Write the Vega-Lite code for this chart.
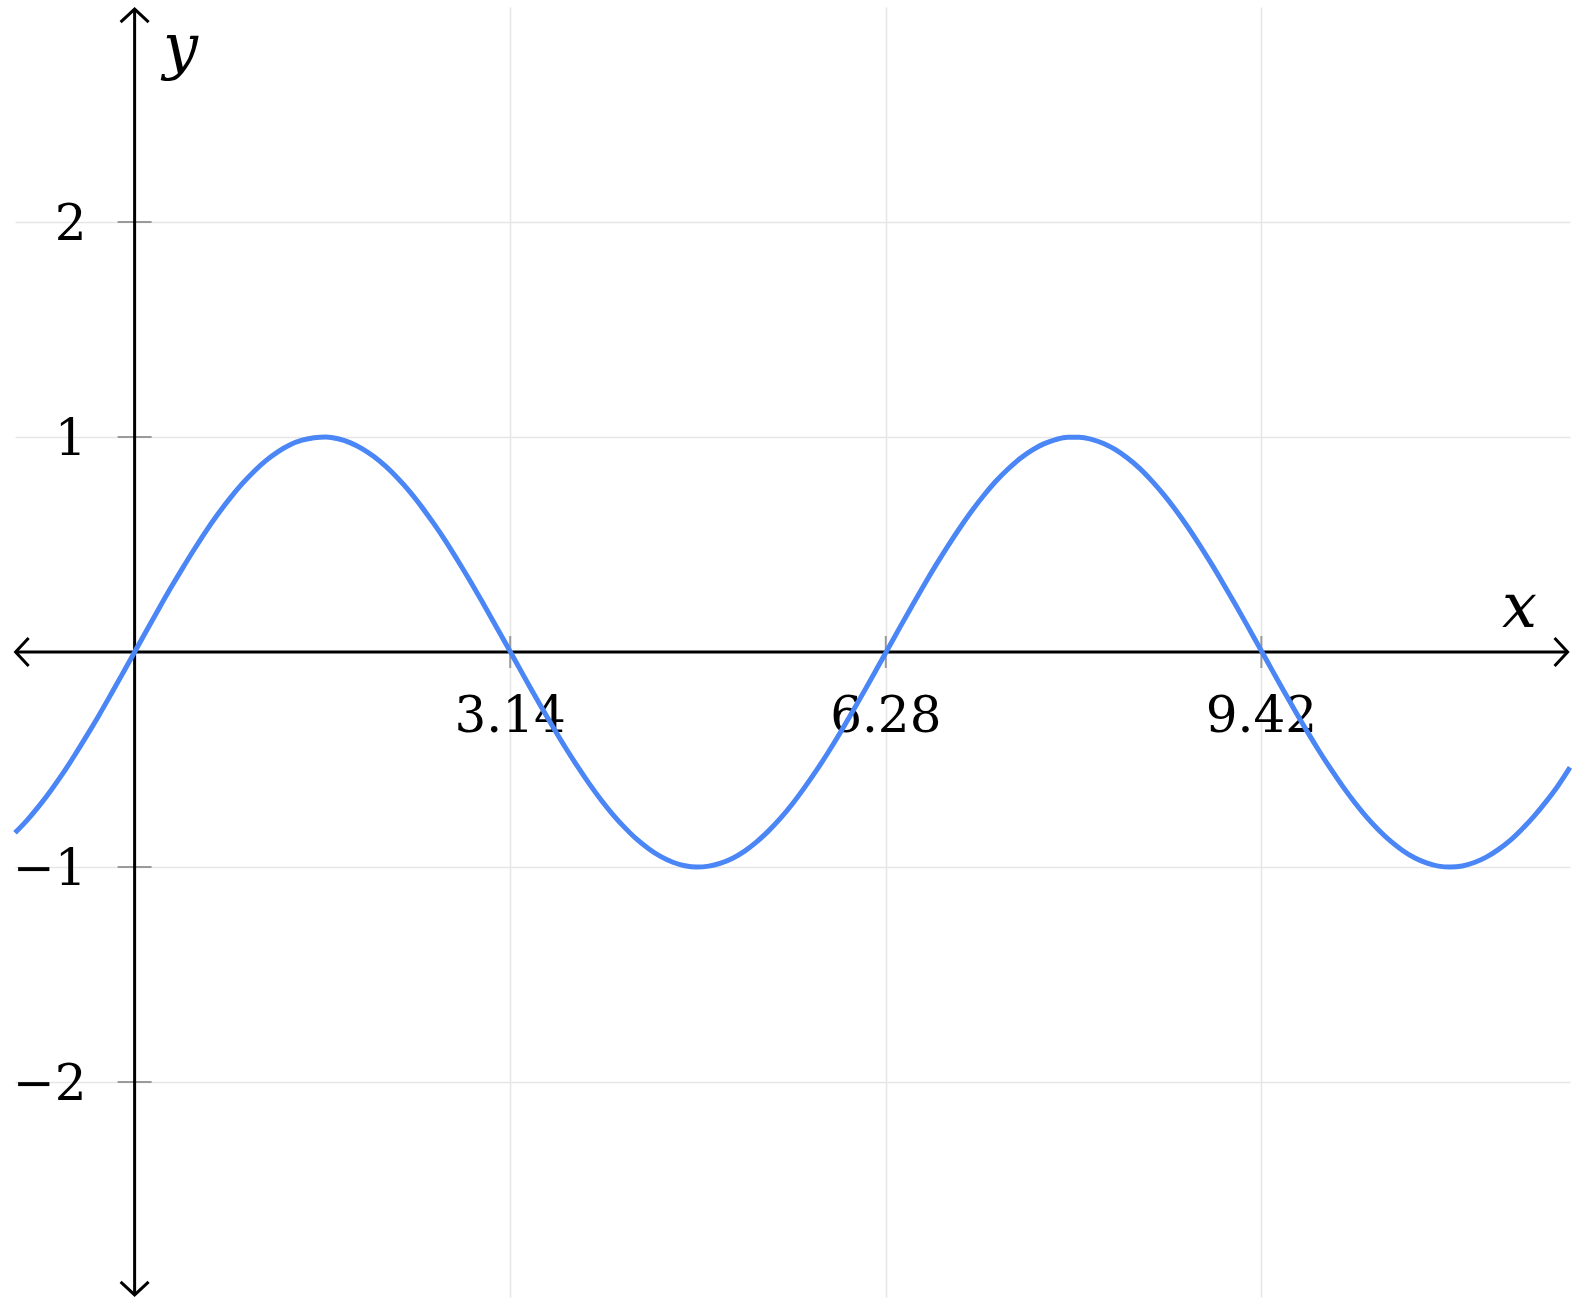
{
  "$schema": "https://vega.github.io/schema/vega-lite/v6.json",
  "width": 1555,
  "height": 1290,
  "autosize": {"type": "none"},
  "padding": {"left": 15, "top": 7, "right": 4, "bottom": 9},
  "background": "white",
  "config": {"view": {"stroke": null}},
  "encoding": {
    "x": {"field": "x", "type": "quantitative",
      "scale": {"domain": [-1, 12], "nice": false, "zero": false},
      "axis": {"values": [3.14, 6.28, 9.42], "grid": true, "gridColor": "#e6e6e6", "gridWidth": 1.6, "domain": false, "ticks": false, "labels": false, "title": null}},
    "y": {"field": "y", "type": "quantitative",
      "scale": {"domain": [-3, 3], "nice": false, "zero": false},
      "axis": {"values": [-2, -1, 1, 2], "grid": true, "gridColor": "#e6e6e6", "gridWidth": 1.6, "domain": false, "ticks": false, "labels": false, "title": null}}
  },
  "layer": [
    {
      "data": {"values": [{"x": 3.14, "y": 0}, {"x": 6.28, "y": 0}, {"x": 9.42, "y": 0}]},
      "mark": {"type": "tick", "orient": "vertical", "size": 32, "thickness": 2, "color": "#9a9a9a", "opacity": 1}
    },
    {
      "data": {"values": [{"x": 0, "y": 2}, {"x": 0, "y": 1}, {"x": 0, "y": -1}, {"x": 0, "y": -2}]},
      "mark": {"type": "tick", "orient": "horizontal", "size": 34, "thickness": 2, "color": "#9a9a9a", "opacity": 1}
    },
    {
      "data": {"values": [{"x": -0.995, "x2": 11.98, "y": 0}]},
      "mark": {"type": "rule", "color": "#000000", "strokeWidth": 3},
      "encoding": {"x2": {"field": "x2"}}
    },
    {
      "data": {"values": [{"x": 0, "y": -2.99, "y2": 2.99}]},
      "mark": {"type": "rule", "color": "#000000", "strokeWidth": 3},
      "encoding": {"y2": {"field": "y2"}}
    },
    {
      "data": {"values": [{"x": 11.98, "y": 0}]},
      "mark": {"type": "point", "shape": "M -0.93 -1 L 0 0 L -0.93 1", "size": 784, "angle": 0, "filled": false, "stroke": "#000000", "strokeWidth": 3, "opacity": 1, "strokeJoin": "miter"}
    },
    {
      "data": {"values": [{"x": -0.995, "y": 0}]},
      "mark": {"type": "point", "shape": "M -0.93 -1 L 0 0 L -0.93 1", "size": 784, "angle": 180, "filled": false, "stroke": "#000000", "strokeWidth": 3, "opacity": 1, "strokeJoin": "miter"}
    },
    {
      "data": {"values": [{"x": 0, "y": 2.99}]},
      "mark": {"type": "point", "shape": "M -0.93 -1 L 0 0 L -0.93 1", "size": 784, "angle": 270, "filled": false, "stroke": "#000000", "strokeWidth": 3, "opacity": 1, "strokeJoin": "miter"}
    },
    {
      "data": {"values": [{"x": 0, "y": -2.99}]},
      "mark": {"type": "point", "shape": "M -0.93 -1 L 0 0 L -0.93 1", "size": 784, "angle": 90, "filled": false, "stroke": "#000000", "strokeWidth": 3, "opacity": 1, "strokeJoin": "miter"}
    },
    {
      "data": {"values": [{"x": 3.14, "y": 0, "t": "3.14"}, {"x": 6.28, "y": 0, "t": "6.28"}, {"x": 9.42, "y": 0, "t": "9.42"}]},
      "mark": {"type": "text", "font": "DejaVu Serif", "fontSize": 50, "align": "center", "baseline": "alphabetic", "dy": 80, "color": "#000000"},
      "encoding": {"text": {"field": "t"}}
    },
    {
      "data": {"values": [{"x": 0, "y": 2, "t": "2"}, {"x": 0, "y": 1, "t": "1"}, {"x": 0, "y": -1, "t": "−1"}, {"x": 0, "y": -2, "t": "−2"}]},
      "mark": {"type": "text", "font": "DejaVu Serif", "fontSize": 50, "align": "right", "baseline": "alphabetic", "dx": -48, "dy": 18, "color": "#000000"},
      "encoding": {"text": {"field": "t"}}
    },
    {
      "data": {"values": [{"x": 12, "y": 0, "t": "x"}]},
      "mark": {"type": "text", "font": "DejaVu Serif", "fontStyle": "italic", "fontSize": 62, "align": "right", "baseline": "alphabetic", "dx": -33, "dy": -25, "color": "#000000"},
      "encoding": {"text": {"field": "t"}}
    },
    {
      "data": {"values": [{"x": 0, "y": 3, "t": "y"}]},
      "mark": {"type": "text", "font": "DejaVu Serif", "fontStyle": "italic", "fontSize": 62, "align": "center", "baseline": "alphabetic", "dx": 46, "dy": 60, "color": "#000000"},
      "encoding": {"text": {"field": "t"}}
    },
    {
      "data": {"values": [
        {"x": -1.0, "y": -0.841}, {"x": -0.9, "y": -0.783}, {"x": -0.8, "y": -0.717}, {"x": -0.7, "y": -0.644}, {"x": -0.6, "y": -0.565},
        {"x": -0.5, "y": -0.479}, {"x": -0.4, "y": -0.389}, {"x": -0.3, "y": -0.296}, {"x": -0.2, "y": -0.199}, {"x": -0.1, "y": -0.1},
        {"x": 0.0, "y": 0.0}, {"x": 0.1, "y": 0.1}, {"x": 0.2, "y": 0.199}, {"x": 0.3, "y": 0.296}, {"x": 0.4, "y": 0.389},
        {"x": 0.5, "y": 0.479}, {"x": 0.6, "y": 0.565}, {"x": 0.7, "y": 0.644}, {"x": 0.8, "y": 0.717}, {"x": 0.9, "y": 0.783},
        {"x": 1.0, "y": 0.841}, {"x": 1.1, "y": 0.891}, {"x": 1.2, "y": 0.932}, {"x": 1.3, "y": 0.964}, {"x": 1.4, "y": 0.985},
        {"x": 1.5, "y": 0.997}, {"x": 1.6, "y": 1.0}, {"x": 1.7, "y": 0.992}, {"x": 1.8, "y": 0.974}, {"x": 1.9, "y": 0.946},
        {"x": 2.0, "y": 0.909}, {"x": 2.1, "y": 0.863}, {"x": 2.2, "y": 0.808}, {"x": 2.3, "y": 0.746}, {"x": 2.4, "y": 0.675},
        {"x": 2.5, "y": 0.598}, {"x": 2.6, "y": 0.516}, {"x": 2.7, "y": 0.427}, {"x": 2.8, "y": 0.335}, {"x": 2.9, "y": 0.239},
        {"x": 3.0, "y": 0.141}, {"x": 3.1, "y": 0.042}, {"x": 3.2, "y": -0.058}, {"x": 3.3, "y": -0.158}, {"x": 3.4, "y": -0.256},
        {"x": 3.5, "y": -0.351}, {"x": 3.6, "y": -0.443}, {"x": 3.7, "y": -0.53}, {"x": 3.8, "y": -0.612}, {"x": 3.9, "y": -0.688},
        {"x": 4.0, "y": -0.757}, {"x": 4.1, "y": -0.818}, {"x": 4.2, "y": -0.872}, {"x": 4.3, "y": -0.916}, {"x": 4.4, "y": -0.952},
        {"x": 4.5, "y": -0.978}, {"x": 4.6, "y": -0.994}, {"x": 4.7, "y": -1.0}, {"x": 4.8, "y": -0.996}, {"x": 4.9, "y": -0.982},
        {"x": 5.0, "y": -0.959}, {"x": 5.1, "y": -0.926}, {"x": 5.2, "y": -0.883}, {"x": 5.3, "y": -0.832}, {"x": 5.4, "y": -0.773},
        {"x": 5.5, "y": -0.706}, {"x": 5.6, "y": -0.631}, {"x": 5.7, "y": -0.551}, {"x": 5.8, "y": -0.465}, {"x": 5.9, "y": -0.374},
        {"x": 6.0, "y": -0.279}, {"x": 6.1, "y": -0.182}, {"x": 6.2, "y": -0.083}, {"x": 6.3, "y": 0.017}, {"x": 6.4, "y": 0.117},
        {"x": 6.5, "y": 0.215}, {"x": 6.6, "y": 0.312}, {"x": 6.7, "y": 0.405}, {"x": 6.8, "y": 0.494}, {"x": 6.9, "y": 0.578},
        {"x": 7.0, "y": 0.657}, {"x": 7.1, "y": 0.729}, {"x": 7.2, "y": 0.794}, {"x": 7.3, "y": 0.85}, {"x": 7.4, "y": 0.899},
        {"x": 7.5, "y": 0.938}, {"x": 7.6, "y": 0.968}, {"x": 7.7, "y": 0.988}, {"x": 7.8, "y": 0.999}, {"x": 7.9, "y": 0.999},
        {"x": 8.0, "y": 0.989}, {"x": 8.1, "y": 0.97}, {"x": 8.2, "y": 0.941}, {"x": 8.3, "y": 0.902}, {"x": 8.4, "y": 0.855},
        {"x": 8.5, "y": 0.798}, {"x": 8.6, "y": 0.734}, {"x": 8.7, "y": 0.663}, {"x": 8.8, "y": 0.585}, {"x": 8.9, "y": 0.501},
        {"x": 9.0, "y": 0.412}, {"x": 9.1, "y": 0.319}, {"x": 9.2, "y": 0.223}, {"x": 9.3, "y": 0.125}, {"x": 9.4, "y": 0.025},
        {"x": 9.5, "y": -0.075}, {"x": 9.6, "y": -0.174}, {"x": 9.7, "y": -0.272}, {"x": 9.8, "y": -0.367}, {"x": 9.9, "y": -0.458},
        {"x": 10.0, "y": -0.544}, {"x": 10.1, "y": -0.625}, {"x": 10.2, "y": -0.7}, {"x": 10.3, "y": -0.768}, {"x": 10.4, "y": -0.828},
        {"x": 10.5, "y": -0.88}, {"x": 10.6, "y": -0.923}, {"x": 10.7, "y": -0.957}, {"x": 10.8, "y": -0.981}, {"x": 10.9, "y": -0.996},
        {"x": 11.0, "y": -1.0}, {"x": 11.1, "y": -0.995}, {"x": 11.2, "y": -0.979}, {"x": 11.3, "y": -0.954}, {"x": 11.4, "y": -0.919},
        {"x": 11.5, "y": -0.876}, {"x": 11.6, "y": -0.823}, {"x": 11.7, "y": -0.763}, {"x": 11.8, "y": -0.696}, {"x": 11.9, "y": -0.622},
        {"x": 12.0, "y": -0.537}
      ]},
      "mark": {"type": "line", "color": "#4a86f5", "strokeWidth": 5, "interpolate": "monotone", "strokeCap": "butt"}
    }
  ]
}
